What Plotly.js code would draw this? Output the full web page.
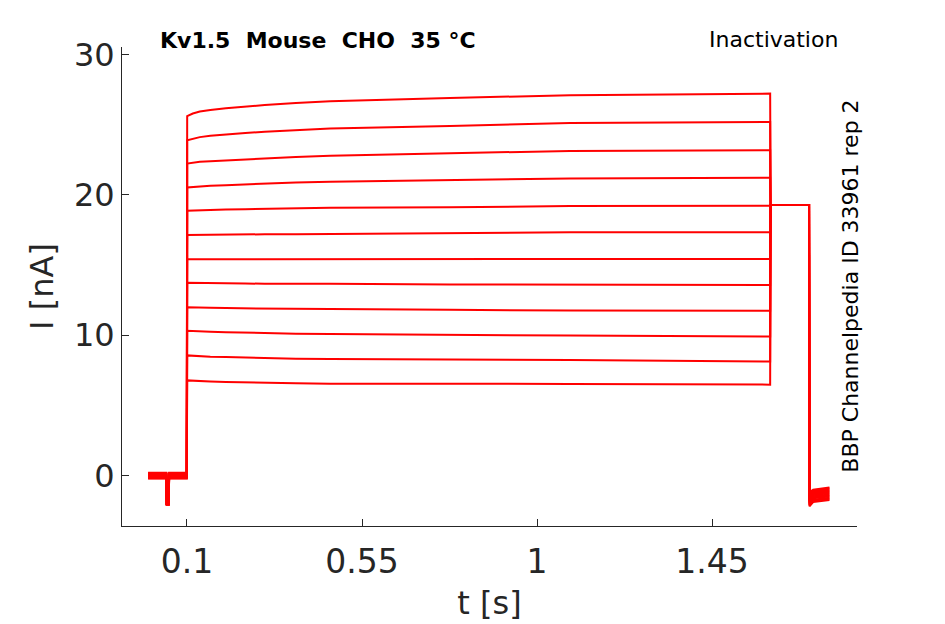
<!DOCTYPE html>
<html>
<head>
<meta charset="utf-8">
<script src="https://cdn.plot.ly/plotly-3.0.1.min.js"></script>
<style>
  body { margin: 0; background: #fff; }
  #plot { width: 945px; height: 624px; }
</style>
</head>
<body>
<div id="plot"></div>
<script>
// holding period (t in s), test dip, then the activation pulse
var holdT = [0, 0.047, 0.048, 0.053, 0.054, 0.0995];
var dipLevel = -2.05;
var holdLevel = [0.15, -0.1, 0.05, -0.2, 0.1, -0.05, 0.2, -0.15, 0, 0.12, -0.22, 0.08];

var pulseT = [0.1005, 0.115, 0.133, 0.16, 0.2, 0.25, 0.3, 0.38, 0.468, 0.776, 1.085, 1.5995];
var pulse1 = [25.6, 25.78, 25.92, 26.04, 26.16, 26.28, 26.38, 26.53, 26.65, 26.89, 27.08, 27.2];
var pulse2 = [23.88, 24.0, 24.1, 24.2, 24.3, 24.4, 24.48, 24.6, 24.71, 24.9, 25.11, 25.18];
var pulse3 = [22.22, 22.28, 22.34, 22.39, 22.45, 22.52, 22.58, 22.68, 22.77, 22.94, 23.12, 23.17];
var pulse4 = [20.52, 20.56, 20.6, 20.64, 20.68, 20.74, 20.79, 20.86, 20.92, 21.02, 21.16, 21.2];
var pulse5 = [18.86, 18.88, 18.9, 18.92, 18.95, 18.97, 19.0, 19.04, 19.07, 19.1, 19.19, 19.21];
var pulse6 = [17.13, 17.13, 17.14, 17.15, 17.16, 17.17, 17.18, 17.19, 17.2, 17.25, 17.32, 17.32];
var pulse7 = [15.4, 15.4, 15.4, 15.4, 15.4, 15.4, 15.4, 15.4, 15.4, 15.42, 15.44, 15.42];
var pulse8 = [13.72, 13.71, 13.7, 13.69, 13.68, 13.67, 13.66, 13.66, 13.65, 13.6, 13.57, 13.57];
var pulse9 = [11.98, 11.96, 11.95, 11.94, 11.92, 11.9, 11.88, 11.86, 11.85, 11.8, 11.75, 11.73];
var pulse10 = [10.3, 10.27, 10.25, 10.23, 10.2, 10.16, 10.13, 10.1, 10.07, 10.04, 9.97, 9.9];
var pulse11 = [8.55, 8.52, 8.49, 8.46, 8.43, 8.39, 8.35, 8.32, 8.29, 8.27, 8.22, 8.12];
var pulse12 = [6.77, 6.74, 6.72, 6.69, 6.66, 6.62, 6.59, 6.56, 6.54, 6.54, 6.52, 6.47];

// second step (same for all sweeps) and the tail
var stepT = [1.6005, 1.6995];
var stepLevel = 19.26;
var tailT = [1.7005, 1.71, 1.752];
var tailStart = [-2.2, -2.1, -2.0, -1.9, -1.8, -1.7, -1.6, -1.5, -1.4, -1.35, -1.3, -1.2];
var tailMid = [-1.9, -1.8, -1.72, -1.62, -1.55, -1.47, -1.4, -1.32, -1.25, -1.18, -1.1, -1.02];
var tailEnd = [-1.75, -1.66, -1.58, -1.5, -1.42, -1.35, -1.27, -1.2, -1.1, -1.02, -0.93, -0.85];

var pulses = [pulse1, pulse2, pulse3, pulse4, pulse5, pulse6, pulse7, pulse8, pulse9, pulse10, pulse11, pulse12];

var traces = [];
pulses.forEach(function (p, i) {
  var h = holdLevel[i];
  var x = holdT.concat(pulseT, stepT, tailT);
  var y = [h, h, dipLevel, dipLevel, h, h]
    .concat(p, [stepLevel, stepLevel], [tailStart[i], tailMid[i], tailEnd[i]]);
  traces.push({
    x: x, y: y,
    type: 'scatter', mode: 'lines',
    line: { color: '#ff0000', width: 2 },
    hoverinfo: 'skip', showlegend: false
  });
});

var axisCol = '#262626';
var layout = {
  width: 945, height: 624,
  margin: { l: 122, r: 88, t: 47, b: 98 },
  paper_bgcolor: '#fff', plot_bgcolor: '#fff',
  font: { family: 'DejaVu Sans', color: axisCol },
  xaxis: {
    range: [-0.0671, 1.8228],
    tickvals: [0.1, 0.55, 1, 1.45],
    ticktext: ['0.1', '0.55', '1', '1.45'],
    ticks: 'inside', ticklen: 7, tickcolor: axisCol,
    showline: true, linecolor: axisCol, linewidth: 1,
    showgrid: false, zeroline: false,
    ticklabelstandoff: 6,
    tickfont: { size: 33, color: axisCol },
    title: { text: 't [s]', font: { size: 32, color: axisCol }, standoff: 12 }
  },
  yaxis: {
    range: [-3.6, 30.52],
    tickvals: [0, 10, 20, 30],
    ticks: 'inside', ticklen: 7, tickcolor: axisCol,
    showline: true, linecolor: axisCol, linewidth: 1,
    showgrid: false, zeroline: false,
    tickfont: { size: 32, color: axisCol },
    title: { text: 'I [nA]', font: { size: 32, color: axisCol }, standoff: 10 }
  },
  annotations: [
    { text: '<b>Kv1.5  Mouse  CHO  35 °C</b>', xref: 'paper', yref: 'paper',
      x: 0.266, y: 1.0146, xanchor: 'center', yanchor: 'middle', showarrow: false,
      font: { size: 22, color: '#000' } },
    { text: 'Inactivation', xref: 'paper', yref: 'paper',
      x: 0.886, y: 1.0167, xanchor: 'center', yanchor: 'middle', showarrow: false,
      font: { size: 22, color: '#000' } },
    { text: 'BBP Channelpedia ID 33961 rep 2', xref: 'paper', yref: 'paper',
      x: 0.990, y: 0.501, xanchor: 'center', yanchor: 'middle', showarrow: false,
      textangle: -90, font: { size: 22, color: '#000' } }
  ]
};

Plotly.newPlot('plot', traces, layout, { displayModeBar: false, staticPlot: true });
</script>
</body>
</html>
